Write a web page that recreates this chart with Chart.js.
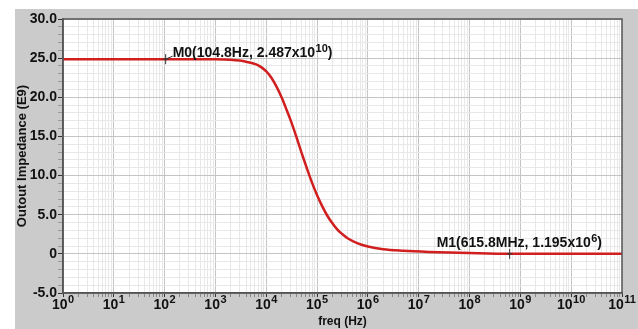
<!DOCTYPE html>
<html>
<head>
<meta charset="utf-8">
<script src="https://cdn.jsdelivr.net/npm/chart.js@4.4.0/dist/chart.umd.min.js"></script>
<style>
  body { margin: 0; background: #fff; }
  canvas { display: block; }
</style>
</head>
<body>
<canvas id="c" width="638" height="329"></canvas>
<script>
// data (impedance in E9 ohm)
const freqHz = [1, 10, 104.8, 1000, 2000, 3980, 6310, 7940, 10000, 12600, 15800, 20000, 25100, 31600,
  39800, 50100, 63100, 79400, 100000, 126000, 158000, 200000, 251000, 316000, 398000, 631000,
  1000000, 2000000, 5010000, 15800000, 100000000, 615800000, 1e10, 1e11];
const impedanceE9 = [24.87, 24.87, 24.87, 24.85, 24.78, 24.55, 24.2, 23.85, 23.3, 22.5, 21.4, 20.0, 18.4, 16.7,
  14.8, 12.8, 10.9, 9.1, 7.5, 6.1, 4.9, 3.9, 3.1, 2.5, 2.0, 1.35,
  0.95, 0.6, 0.4, 0.25, 0.1, 0.0012, 0.0005, 0.0];

const decades = [0, 1, 2, 3, 4, 5, 6, 7, 8, 9, 10, 11];
const yTicks = [-5, 0, 5, 10, 15, 20, 25, 30];

// markers
const markerNames = ['M0', 'M1'];
const markerFreq = [104.8, 615.8e6];
const markerVal = [24.87, 0.001195];
const markerText = ['M0(104.8Hz, 2.487x10', 'M1(615.8MHz, 1.195x10'];
const markerExp = ['10', '6'];

const FONT = "'Liberation Sans', Arial, sans-serif";

var points = freqHz.map((f, i) => ({ x: f, y: impedanceE9[i] }));

// x ticks: 1..9 per decade, y ticks every 1
var xTickVals = [];
decades.forEach(d => {
  for (var k = 1; k <= 9; k++) {
    if (d === 11 && k > 1) break;
    xTickVals.push(k * Math.pow(10, d));
  }
});
var yTickVals = [];
for (var v = -5; v <= 30; v++) yTickVals.push(v);

function isDecade(v) {
  var l = Math.log10(v);
  return Math.abs(l - Math.round(l)) < 1e-6;
}

function drawSup(ctx, x, y, text, exp, big, small, rise) {
  ctx.font = big;
  ctx.fillText(text, x, y);
  var w = ctx.measureText(text).width;
  ctx.font = small;
  ctx.fillText(exp, x + w + 0.5, y - rise);
  var w2 = ctx.measureText(exp).width;
  return x + w + 0.5 + w2;
}

const deco = {
  id: 'deco',
  beforeDraw(chart) {
    const c = chart.ctx, a = chart.chartArea;
    c.save();
    c.fillStyle = '#fff';
    c.fillRect(0, 0, chart.width, chart.height);
    c.fillStyle = '#cbcbcb';
    c.fillRect(15, 9, chart.width - 15, chart.height - 9);
    c.fillStyle = '#fff';
    c.fillRect(a.left, a.top, a.right - a.left, a.bottom - a.top);
    c.restore();
  },
  afterDraw(chart) {
    const c = chart.ctx, a = chart.chartArea;
    const xs = chart.scales.x, ys = chart.scales.y;
    c.save();
    // frame
    c.strokeStyle = '#555';
    c.lineWidth = 1.5;
    c.strokeRect(a.left, a.top, a.right - a.left, a.bottom - a.top);

    // x tick labels 10^n
    c.fillStyle = '#111';
    c.textBaseline = 'alphabetic';
    c.textAlign = 'left';
    decades.forEach(d => {
      var px = xs.getPixelForValue(Math.pow(10, d));
      c.font = 'bold 14px ' + FONT;
      var w1 = c.measureText('10').width;
      c.font = 'bold 11px ' + FONT;
      var w2 = c.measureText(String(d)).width;
      var x0 = px - (w1 + w2 + 0.5) / 2;
      drawSup(c, x0, 309, '10', String(d), 'bold 14px ' + FONT, 'bold 11px ' + FONT, 6);
    });

    // markers
    c.strokeStyle = '#333';
    c.lineWidth = 1;
    markerNames.forEach((m, i) => {
      var mx = xs.getPixelForValue(markerFreq[i]);
      var my = ys.getPixelForValue(markerVal[i]);
      c.beginPath();
      c.moveTo(mx - 3, my); c.lineTo(mx + 3, my);
      c.moveTo(mx, my - 5); c.lineTo(mx, my + 5);
      c.stroke();
      var tx, ty;
      if (i === 0) {
        c.beginPath();
        c.moveTo(mx, my); c.lineTo(mx + 7, my - 3);
        c.stroke();
        tx = mx + 7; ty = my - 2;
      } else {
        tx = mx - 73; ty = my - 7;
      }
      var end = drawSup(c, tx, ty, markerText[i], markerExp[i], 'bold 14px ' + FONT, 'bold 11px ' + FONT, 5);
      c.font = 'bold 14px ' + FONT;
      c.fillText(')', end, ty);
    });
    c.restore();
  }
};

const myChart = new Chart(document.getElementById('c'), {
  type: 'line',
  data: {
    datasets: [{
      data: points,
      borderColor: '#d11f1f',
      borderWidth: 2.5,
      pointRadius: 0,
      cubicInterpolationMode: 'monotone',
      fill: false
    }]
  },
  options: {
    responsive: false,
    animation: false,
    devicePixelRatio: 1,
    layout: { padding: { left: 15, top: 19, right: 16, bottom: 0 } },
    plugins: { legend: { display: false }, tooltip: { enabled: false } },
    scales: {
      x: {
        type: 'logarithmic',
        min: 1,
        max: 1e11,
        afterBuildTicks: s => { s.ticks = xTickVals.map(v => ({ value: v, major: isDecade(v) })); },
        afterFit: s => { s.height = 36; },
        ticks: { display: false },
        grid: {
          color: ctx => (ctx.tick && isDecade(ctx.tick.value)) ? '#c4c4c4' : '#e8e8e8',
          tickColor: ctx => (ctx.tick && isDecade(ctx.tick.value)) ? '#333' : '#888',
          tickLength: 4
        },
        border: { color: '#555', width: 1.5 },
        title: {
          display: true,
          text: 'freq (Hz)',
          color: '#111',
          font: { family: FONT, size: 12, weight: 'bold' },
          padding: { top: 0, bottom: 0 }
        }
      },
      y: {
        type: 'linear',
        min: -5,
        max: 30,
        afterBuildTicks: s => { s.ticks = yTickVals.map(v => ({ value: v })); },
        afterFit: s => { s.width = 48; },
        ticks: {
          autoSkip: false,
          padding: 1,
          color: '#111',
          font: { family: FONT, size: 14, weight: 'bold' },
          callback: v => yTicks.includes(v) ? (v === 0 ? '0' : v.toFixed(1)) : ''
        },
        grid: {
          color: ctx => (ctx.tick && ctx.tick.value % 5 === 0) ? '#c4c4c4' : '#e8e8e8',
          tickColor: ctx => (ctx.tick && ctx.tick.value % 5 === 0) ? '#333' : '#999',
          tickLength: 5
        },
        border: { color: '#555', width: 1.5 },
        title: {
          display: true,
          text: 'Outout Impedance (E9)',
          color: '#111',
          font: { family: FONT, size: 13, weight: 'bold' },
          padding: { top: 0, bottom: 0 }
        }
      }
    }
  },
  plugins: [deco]
});
</script>
</body>
</html>
